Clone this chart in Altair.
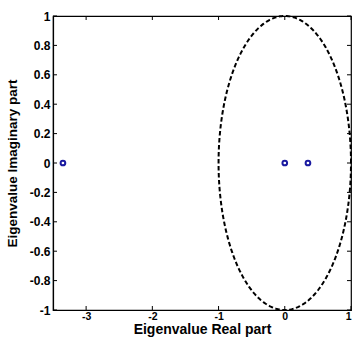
import altair as alt
import pandas as pd

real_part = [-3.35, 0.0, 0.35]
imag_part = [0.0, 0.0, 0.0]
x_ticks = [-3, -2, -1, 0, 1]
y_ticks = [-1, -0.8, -0.6, -0.4, -0.2, 0, 0.2, 0.4, 0.6, 0.8, 1]

W, H = 298, 294
FONT = "Liberation Sans"

xs = alt.Scale(domain=[-3.5, 1], nice=False, zero=False)
ys = alt.Scale(domain=[-1, 1], nice=False, zero=False)

xax = alt.Axis(values=x_ticks, title="Eigenvalue Real part", grid=False,
               ticks=False, labelPadding=1, titlePadding=1,
               labelOverlap=False, labelExpr="'' + datum.value",
               labelFontSize=10.5, titleFontSize=14)
yax = alt.Axis(values=y_ticks, title="Eigenvalue Imaginary part", grid=False,
               ticks=False, labelPadding=3, titlePadding=10,
               labelOverlap=False, labelExpr="'' + datum.value",
               labelFontSize=12, titleFontSize=13.5)

pts = pd.DataFrame({"re": real_part, "im": imag_part})

circle = alt.Chart(alt.sequence(0, 6.3, 0.02, as_="t")).transform_calculate(
    cx="cos(datum.t)", cy="sin(datum.t)"
).mark_line(color="black", strokeDash=[4.5, 2.5], strokeWidth=2).encode(
    x=alt.X("cx:Q", scale=xs, axis=xax),
    y=alt.Y("cy:Q", scale=ys, axis=yax),
    order="t:Q",
)

points = alt.Chart(pts).mark_point(shape="circle", filled=False, color="#1a1aa0",
                                   size=22, strokeWidth=2, opacity=1).encode(
    x=alt.X("re:Q", scale=xs, axis=xax), y=alt.Y("im:Q", scale=ys, axis=yax)
)

xt = pd.DataFrame({"v": x_ticks})
yt = pd.DataFrame({"v": y_ticks})
tl = 4
xb = alt.Chart(xt).mark_rule(color="black").encode(
    x=alt.X("v:Q", scale=xs, axis=xax), y=alt.value(H), y2=alt.value(H - tl))
xtop = alt.Chart(xt).mark_rule(color="black").encode(
    x=alt.X("v:Q", scale=xs, axis=xax), y=alt.value(0), y2=alt.value(tl))
yl = alt.Chart(yt).mark_rule(color="black").encode(
    y=alt.Y("v:Q", scale=ys, axis=yax), x=alt.value(0), x2=alt.value(tl))
yr = alt.Chart(yt).mark_rule(color="black").encode(
    y=alt.Y("v:Q", scale=ys, axis=yax), x=alt.value(W), x2=alt.value(W - tl))

chart = alt.layer(circle, points, xb, xtop, yl, yr).properties(
    width=W, height=H,
    autosize=alt.AutoSizeParams(type="none"),
    padding={"left": 53, "top": 16, "right": 4, "bottom": 33},
).configure_view(stroke="black", strokeWidth=1.2).configure_axis(
    domainColor="black", domainWidth=1.2, labelOverlap=False,
    labelFont=FONT, labelFontWeight="bold", labelFontSize=11, labelColor="black",
    titleFont=FONT, titleFontWeight="bold", titleFontSize=13, titleColor="black",
)

chart.save("out.html", embed_options={"renderer": "svg", "actions": False})
